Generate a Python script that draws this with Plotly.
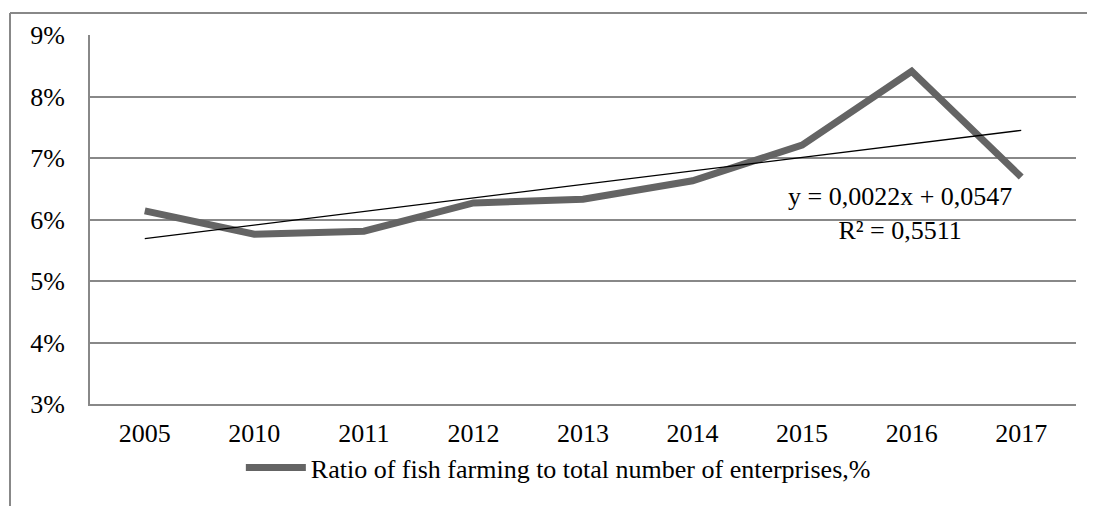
import plotly.graph_objects as go

years = ["2005", "2010", "2011", "2012", "2013", "2014", "2015", "2016", "2017"]
ratio = [0.0614, 0.0576, 0.0581, 0.0627, 0.0633, 0.0663, 0.0721, 0.0841, 0.0669]
trend_x = ["2005", "2017"]
trend_y = [0.0569, 0.0745]
y_ticks = [0.03, 0.04, 0.05, 0.06, 0.07, 0.08, 0.09]
y_labels = ["3%", "4%", "5%", "6%", "7%", "8%", "9%"]
series_name = "Ratio of fish farming to total number of enterprises,%"
eq_text = "y = 0,0022x + 0,0547<br>R² = 0,5511"

FONT = "Liberation Serif, Times New Roman, serif"
# the page body has an 8px margin, so the figure is drawn 8px smaller and shifted
OFF = 8
W, H = 1095 - OFF, 506 - OFF
L, R, T, B = 90 - OFF, 19, 35 - OFF, 102
pw, ph = W - L - R, H - T - B

fig = go.Figure()
fig.add_trace(go.Scatter(x=years, y=ratio, name=series_name, mode="lines",
                         line=dict(color="#646464", width=7)))
fig.add_trace(go.Scatter(x=trend_x, y=trend_y, mode="lines", showlegend=False,
                         line=dict(color="black", width=1.3)))

fig.add_annotation(x=0.821, y=0.515, xref="paper", yref="paper", text=eq_text,
                   xanchor="center", yanchor="middle",
                   showarrow=False, font=dict(family=FONT, size=26, color="black"),
                   align="center")

# outer chart border (top and left visible, the rest runs off the page)
bx = (10 - OFF - L) / pw
by = 1 + (T - (13 - OFF)) / ph
fig.add_shape(type="line", xref="paper", yref="paper", x0=bx, y0=by, x1=1.1, y1=by,
              line=dict(color="#888888", width=2))
fig.add_shape(type="line", xref="paper", yref="paper", x0=bx, y0=by, x1=bx, y1=-0.4,
              line=dict(color="#888888", width=2))

fig.update_layout(
    width=W, height=H,
    margin=dict(l=L, r=R, t=T, b=B, autoexpand=False),
    plot_bgcolor="white", paper_bgcolor="white",
    font=dict(family=FONT, size=26, color="black"),
    legend=dict(orientation="h", x=0.475, xanchor="center", y=-0.109, yanchor="top",
                font=dict(family=FONT, size=26), itemwidth=60,
                bgcolor="rgba(0,0,0,0)"),
    xaxis=dict(type="category", range=[-0.5, 8.5], showgrid=False, showline=True,
               linecolor="#888888", linewidth=2, ticks="", ticklabelstandoff=5,
               automargin=False),
    yaxis=dict(range=[0.03, 0.09], tickvals=y_ticks, ticktext=y_labels,
               showgrid=True, gridcolor="#888888", gridwidth=2, zeroline=False,
               showline=True, linecolor="#888888", linewidth=2, ticks="",
               ticklabelstandoff=18, automargin=False),
)

fig.write_html("out.html")
